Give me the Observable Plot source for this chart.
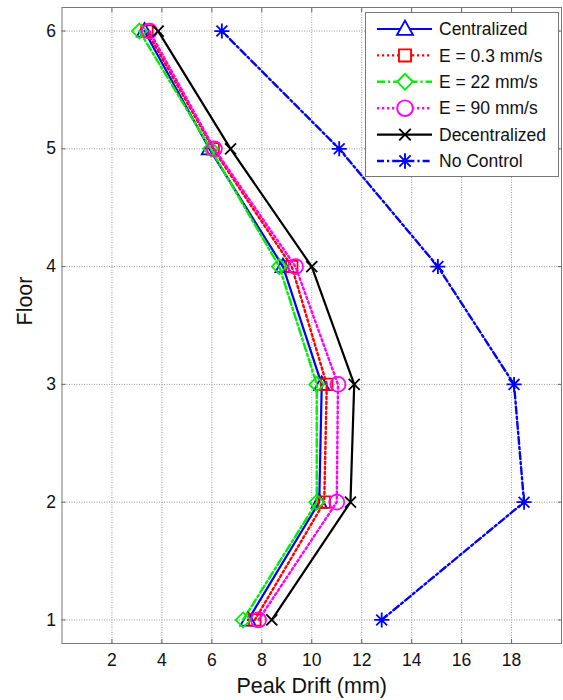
<!DOCTYPE html>
<html><head><meta charset="utf-8">
<script src="https://cdn.jsdelivr.net/npm/d3@7"></script>
<script src="https://cdn.jsdelivr.net/npm/@observablehq/plot@0.6"></script>
<style>
html,body{margin:0;padding:0;background:#fff;}
#chart{position:relative;width:563px;height:700px;}
#chart svg, #chart svg text{font-family:"Liberation Sans", Arial, Helvetica, sans-serif !important;}
</style></head><body><div id="chart"></div>
<script>
// ---- data ----
const floors = [1, 2, 3, 4, 5, 6];
const seriesNames = ["Centralized", "E = 0.3 mm/s", "E = 22 mm/s", "E = 90 mm/s", "Decentralized", "No Control"];
const centralized   = [7.45, 10.3, 10.4, 8.85, 5.9, 3.3];
const e03           = [7.72, 10.5, 10.6, 9.2, 6.05, 3.4];
const e22           = [7.25, 10.2, 10.2, 8.7, 5.95, 3.1];
const e90           = [7.87, 11.0, 11.05, 9.35, 6.1, 3.5];
const decentralized = [8.4, 11.55, 11.7, 10.0, 6.75, 3.85];
const noControl     = [12.8, 18.5, 18.1, 15.05, 11.1, 6.4];
const xTicks = [2, 4, 6, 8, 10, 12, 14, 16, 18];
const yTicks = [1, 2, 3, 4, 5, 6];
const xLabel = "Peak Drift (mm)";
const yLabel = "Floor";

// ---- styles ----
const colors = ["#0000ff", "#ff0000", "#00f000", "#ff00ff", "#000000", "#0000ff"];
const dashes = [null, "2.2,2.8", "8,3,2.2,3", "2.2,2.8", null, "7,3,2.2,3"];
const widths = [2.2, 2.4, 2.4, 2.4, 2.2, 2.4];
function sym(f) { return {draw(ctx, size) { f(ctx, Math.sqrt(size / Math.PI)); }}; }
const symTriangle = sym((c, r) => { c.moveTo(0, -r); c.lineTo(r * 0.95, r * 0.7); c.lineTo(-r * 0.95, r * 0.7); c.closePath(); });
const symSquare = sym((c, r) => { const s = r * 0.8; c.moveTo(-s, -s); c.lineTo(s, -s); c.lineTo(s, s); c.lineTo(-s, s); c.closePath(); });
const symDiamond = sym((c, r) => { c.moveTo(0, -r); c.lineTo(r, 0); c.lineTo(0, r); c.lineTo(-r, 0); c.closePath(); });
const symCircle = sym((c, r) => { c.moveTo(r, 0); c.arc(0, 0, r, 0, 2 * Math.PI); });
const symTimes = sym((c, r) => { c.moveTo(-r, -r); c.lineTo(r, r); c.moveTo(-r, r); c.lineTo(r, -r); });
const symAsterisk = sym((c, r) => { const d = r * 0.72; c.moveTo(-r, 0); c.lineTo(r, 0); c.moveTo(0, -r); c.lineTo(0, r); c.moveTo(-d, -d); c.lineTo(d, d); c.moveTo(-d, d); c.lineTo(d, -d); });
const symbols = [symTriangle, symSquare, symDiamond, symCircle, symTimes, symAsterisk];
const radii = [8, 7.2, 7.5, 7.5, 5.5, 7.5];

const values = [centralized, e03, e22, e90, decentralized, noControl];
const table = values.map((vals, i) => floors.map((f, j) => ({series: seriesNames[i], floor: f, drift: vals[j]})));

const marks = [
  Plot.gridX(xTicks, {stroke: "#9a9a9a", strokeOpacity: 1, strokeDasharray: "1,1.5"}),
  Plot.gridY(yTicks, {stroke: "#9a9a9a", strokeOpacity: 1, strokeDasharray: "1,1.5"}),
  Plot.axisX(xTicks, {tickSize: -4, tickFormat: () => "", label: null, stroke: "#666"}),
  Plot.axisX(xTicks, {anchor: "top", tickSize: -4, tickFormat: () => "", label: null, stroke: "#666"}),
  Plot.axisY(yTicks, {tickSize: -4, tickFormat: () => "", label: null, stroke: "#666"}),
  Plot.axisY(yTicks, {anchor: "right", tickSize: -4, tickFormat: () => "", label: null, stroke: "#666"}),
  Plot.axisX(xTicks, {tickSize: 0, tickPadding: 10, label: null, fontSize: 17.5, fill: "#111", tickFormat: d3.format("d")}),
  Plot.axisY(yTicks, {tickSize: 0, tickPadding: 6, label: null, fontSize: 17.5, fill: "#111", tickFormat: d3.format("d")}),
  Plot.frame({stroke: "#777"}),
  Plot.text([xLabel], {frameAnchor: "bottom", dy: 43, lineAnchor: "middle", fontSize: 21.5, fill: "#111"}),
  Plot.text([yLabel], {frameAnchor: "left", dx: -37, rotate: -90, lineAnchor: "middle", fontSize: 21.5, fill: "#111"})
];
table.forEach((d, i) => {
  marks.push(Plot.line(d, {x: "drift", y: "floor", stroke: colors[i], strokeWidth: widths[i], strokeDasharray: dashes[i]}));
  marks.push(Plot.dot(d, {x: "drift", y: "floor", symbol: symbols[i], r: radii[i], stroke: colors[i], fill: "none", strokeWidth: 1.8}));
});

const svg = Plot.plot({
  width: 563, height: 700,
  marginLeft: 61.5, marginRight: 2, marginTop: 7, marginBottom: 57,
  x: {domain: [0, 20]},
  y: {domain: [0.8, 6.2]},
  style: {background: "#fff"},
  marks
});
document.getElementById("chart").appendChild(svg);

// ---- legend (inside plot, top-right) ----
const g = d3.select(svg).append("g").attr("font-size", 17.5).attr("text-anchor", "start");
g.append("rect").attr("x", 365.5).attr("y", 12.5).attr("width", 193).attr("height", 164)
  .attr("fill", "#fff").attr("stroke", "#777");
seriesNames.forEach((name, i) => {
  const y = 29 + i * 26.4;
  g.append("line").attr("x1", 377).attr("x2", 432).attr("y1", y).attr("y2", y)
    .attr("stroke", colors[i]).attr("stroke-width", widths[i]).attr("stroke-dasharray", dashes[i]);
  g.append("path").attr("transform", `translate(405,${y})`)
    .attr("d", d3.symbol(symbols[i], Math.PI * radii[i] * radii[i] * 1.1)())
    .attr("fill", "#fff").attr("stroke", colors[i]).attr("stroke-width", 1.9);
  g.append("text").attr("x", 439).attr("y", y).attr("dy", "0.35em").attr("fill", "#111").attr("text-anchor", "start").text(name);
});
</script></body></html>
